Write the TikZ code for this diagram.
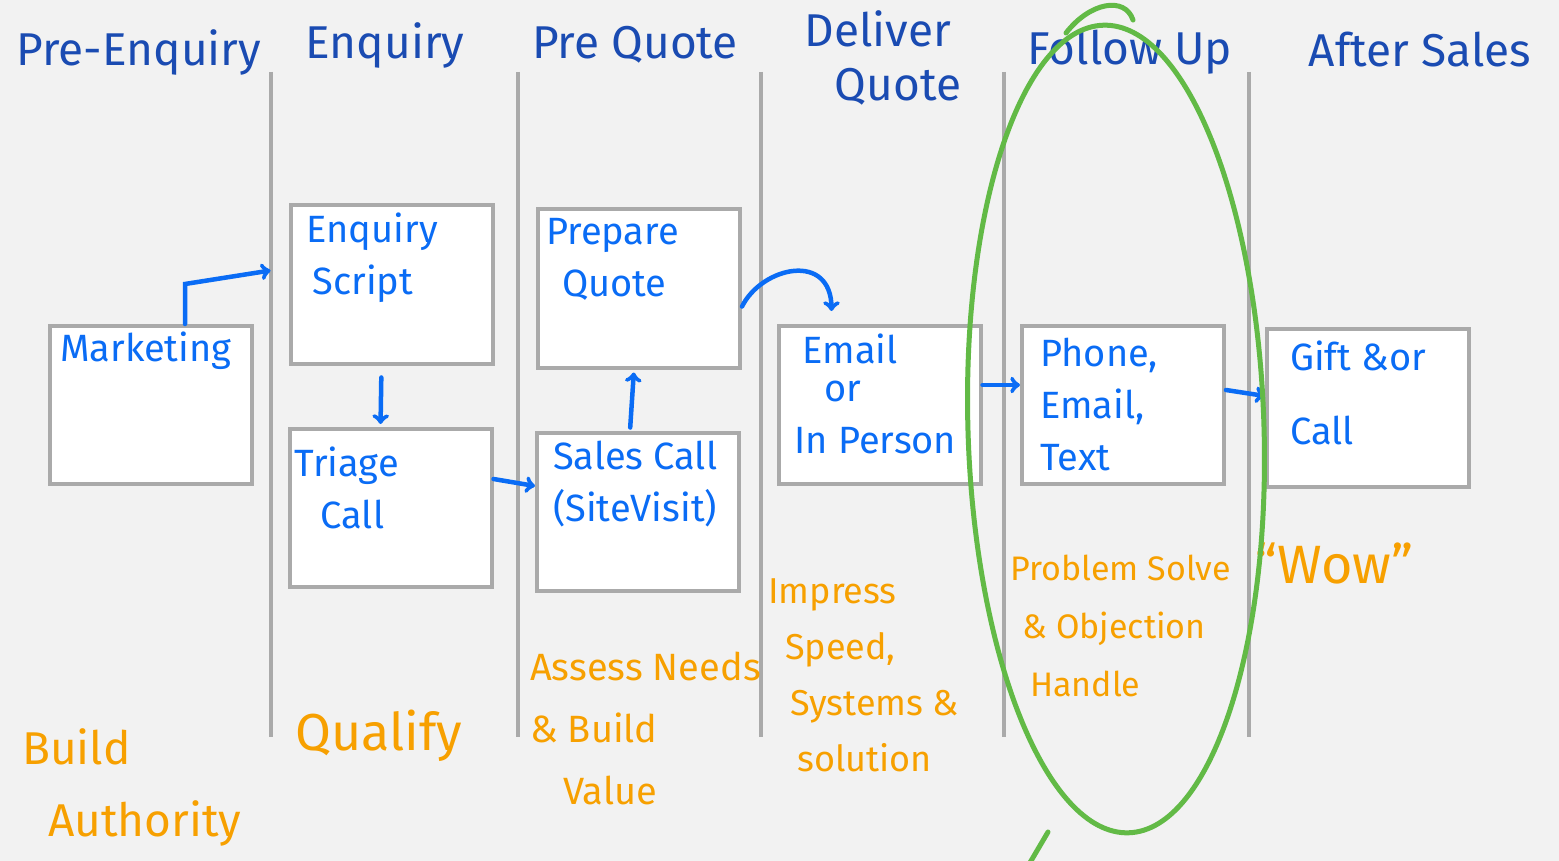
\documentclass[tikz,border=0pt]{standalone}
\usepackage{fontspec}
\setmainfont{Fira Sans}
\usepackage{tikz}
\usetikzlibrary{arrows.meta}
\usetikzlibrary{positioning}
\definecolor{bggray}{HTML}{F2F2F2}
\definecolor{lanegray}{HTML}{AAAAAA}
\definecolor{headblue}{HTML}{1A4BB2}
\definecolor{inkblue}{HTML}{0A6CF5}
\definecolor{inkorange}{HTML}{F7A000}
\definecolor{inkgreen}{HTML}{62BA46}
\tikzset{
lane/.style={draw=lanegray, line width=4pt},
stagebox/.style={draw=lanegray, line width=4pt, fill=white, minimum width=202, minimum height=158, inner sep=0pt},
heading/.style={text=headblue, font=\fontsize{46}{54}\selectfont, inner sep=0pt, align=center},
boxtext/.style={text=inkblue, font=\fontsize{38}{52}\selectfont, inner sep=0pt, align=left, anchor=north west},
note/.style={text=inkorange, font=\fontsize{36}{58}\selectfont, inner sep=0pt, align=left, anchor=north west},
flow/.style={draw=inkblue, line width=4.5pt, line cap=round, -to},
}

\begin{document}
\begin{tikzpicture}[x=1pt, y=-1pt]
            \fill[bggray] (0,0) rectangle (1559,861);
            \useasboundingbox (0,0) rectangle (1559,861);
            % lanes
            \foreach \x in {271,518,761,1004,1249}
                \draw[lane] (\x,72) -- (\x,737);
            % headings
            \node[heading] (h1) at (139,52) {Pre-Enquiry};
            \node[heading] (h2) at (385,45) {Enquiry};
            \node[heading] (h3) at (635,45) {Pre Quote};
            \node[heading] (h4) at (878,58) {Deliver\\\hspace*{40pt}Quote};
            \node[heading] (h5) at (1130,52) {Follow Up};
            \node[heading] (h6) at (1420,50) {After Sales};
            % boxes
            \node[stagebox] (mk) at (151,405) {};
            \node[stagebox] (es) at (391.5,284.5) {};
            \node[stagebox] (tc) at (390.5,508) {};
            \node[stagebox] (pq) at (639,288.5) {};
            \node[stagebox] (sc) at (638,511.5) {};
            \node[stagebox] (em) at (879.5,405) {};
            \node[stagebox] (ph) at (1123,405) {};
            \node[stagebox] (gf) at (1368,408) {};
            \node[boxtext] (mkt) at ([shift={(12,8)}]mk.north west) {Marketing};
            \node[boxtext] (est) at ([shift={(18,9)}]es.north west) {Enquiry\\\hspace*{6pt}Script};
            \node[boxtext] (tct) at ([shift={(7,20)}]tc.north west) {Triage\\\hspace*{26pt}Call};
            \node[boxtext] (pqt) at ([shift={(10,11)}]pq.north west) {Prepare\\\hspace*{16pt}Quote};
            \node[boxtext] (sct) at ([shift={(18,10)}]sc.north west) {Sales Call\\(SiteVisit)};
            \node[boxtext] (emt) at ([shift={(26,10)}]em.north west) {Email\\[-14pt]\hspace*{22pt}or\\\hspace*{-8pt}In Person};
            \node[boxtext] (pht) at ([shift={(20,14)}]ph.north west) {Phone,\\Email,\\Text};
            \node[boxtext] (gft) at ([shift={(25,14)}]gf.north west) {Gift \&or\\[22pt]Call};
            % flow
            \draw[flow] ([xshift=34]mk.north) -- ++(0,-40) -- ([shift={(-18,-14)}]es.west);
            \draw[flow, shorten <=12pt, shorten >=3pt] ([xshift=-10]es.south) -- ([xshift=-10]tc.north);
            \draw[flow] ([yshift=29]tc.east) -- ([yshift=25.5]sc.west);
            \draw[flow, shorten <=3pt, shorten >=3pt] ([xshift=-8]sc.north) -- ([xshift=-5]pq.south);
            \draw[flow] ([yshift=-18]pq.east) .. controls +(20,-40) and +(0,-60) .. ([shift={(-48,-13)}]em.north);
            \draw[flow] ([yshift=20]em.east) -- ([yshift=20]ph.west);
            \draw[flow] ([yshift=15]ph.east) -- ([yshift=12]gf.west);
            % notes
            \node[note, font=\fontsize{46}{72}\selectfont] (n1) at (22,728) {Build\\\hspace*{26pt}Authority};
            \node[note, font=\fontsize{52}{58}\selectfont] (n2) at (295,710) {Qualify};
            \node[note, font=\fontsize{38}{62}\selectfont] (n3) at (530,652) {Assess Needs\\\& Build\\\hspace*{33pt}Value};
            \node[note, font=\fontsize{36}{56}\selectfont] (n4) at (768,578) {Impress\\\hspace*{17pt}Speed,\\\hspace*{22pt}Systems \&\\\hspace*{29pt}solution};
            \node[note, font=\fontsize{34}{58}\selectfont] (n5) at (1010,555) {Problem Solve\\\hspace*{12pt}\& Objection\\\hspace*{20pt}Handle};
            \node[note, font=\fontsize{54}{60}\selectfont] (n6) at (1255,543) {“Wow”};
            % focus ring
            \draw[inkgreen, line width=5pt, rotate around={1.8:(1116,429)}] (1116,429) ellipse (148 and 404);
            \draw[inkgreen, line width=5pt, line cap=round] (1066,33) .. controls (1090,2) and (1125,-4) .. (1133,20);
            \draw[inkgreen, line width=5pt, line cap=round] (1048,832) -- (1028,866);
        \end{tikzpicture}
\end{document}
